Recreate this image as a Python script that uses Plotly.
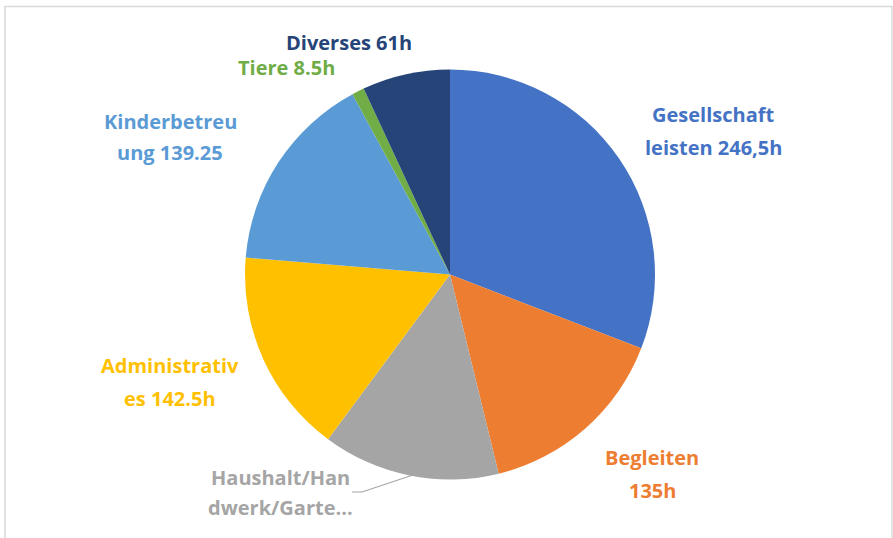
import plotly.graph_objects as go

categories = ["Gesellschaft leisten", "Begleiten", "Haushalt/Handwerk/Garten",
              "Administratives", "Kinderbetreuung", "Tiere", "Diverses"]
hours = [272, 135, 123, 142.5, 139.25, 8.5, 61]
label_lines = [["Gesellschaft", "leisten 246,5h"], ["Begleiten", "135h"], ["Haushalt/Han", "dwerk/Garte..."],
               ["Administrativ", "es 142.5h"], ["Kinderbetreu", "ung 139.25"], ["Tiere 8.5h"], ["Diverses 61h"]]
colors = ["#4472C4", "#ED7D31", "#A5A5A5", "#FFC000", "#5B9BD5", "#70AD47", "#264478"]

W, H = 893, 538
cx, cy, r = 450, 274.5, 205

fig = go.Figure()
fig.add_trace(go.Pie(
    labels=categories, values=hours, sort=False, direction="clockwise", rotation=0,
    marker=dict(colors=colors, line=dict(width=0)),
    textinfo="none", hoverinfo="label+value", showlegend=False,
    domain=dict(x=[(cx - r) / W, (cx + r) / W], y=[1 - (cy + r) / H, 1 - (cy - r) / H]),
))

# label line positions (pixel centres: x, first-line y, line spacing)
label_pos = [(713, 115, 32), (652, 457, 33), (280, 477, 30), (170, 365, 33), (170, 122, 30), (286, 68, 0), (349, 43, 0)]
for lines, col, (x, y, dy) in zip(label_lines, colors, label_pos):
    for i, ln in enumerate(lines):
        fig.add_annotation(x=x / W, y=1 - (y + i * dy) / H, xref="paper", yref="paper", text=ln,
                           showarrow=False, xanchor="center", yanchor="middle", align="center",
                           borderpad=0,
                           font=dict(family="Open Sans", size=20, color=col, weight="bold"))

# leader line for Haushalt label
fig.add_shape(type="path", xref="paper", yref="paper",
              path=f"M {352/W} {1-492/H} L {362/W} {1-492/H} L {413/W} {1-475/H}",
              line=dict(color="#A5A5A5", width=1.2))

# chart frame
fig.add_shape(type="rect", xref="paper", yref="paper",
              x0=5 / W, y0=-0.05, x1=892 / W, y1=1 - 6.5 / H,
              line=dict(color="#D9D9D9", width=1.5), fillcolor="rgba(0,0,0,0)")

fig.update_layout(width=W, height=H, margin=dict(l=0, r=0, t=0, b=0),
                  paper_bgcolor="white", plot_bgcolor="white")
fig.write_html("out.html", config={"displayModeBar": False},
               post_script="document.body.style.margin='0';document.body.style.overflow='hidden';")
